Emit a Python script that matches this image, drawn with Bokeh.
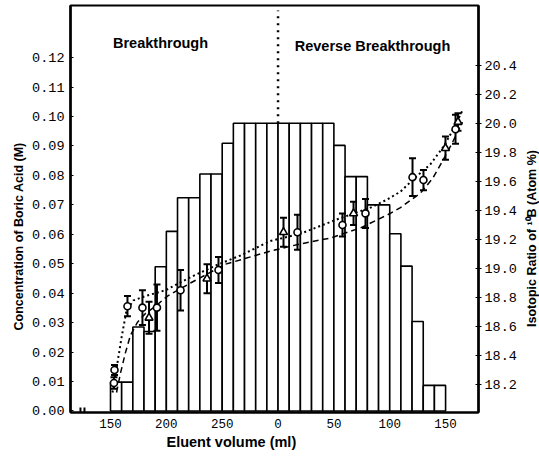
from math import pi
from bokeh.plotting import figure
from bokeh.layouts import row
from bokeh.models import Range1d, LinearAxis, FixedTicker, NumeralTickFormatter, Label, Title
from bokeh.embed import file_html
from bokeh.resources import INLINE

# Elution position (ml). Breakthrough volume runs 150..300,
# reverse-breakthrough volume = position - 300.
REVERSE_OFFSET = 300

# 10 ml fractions: start position and boric acid concentration (M)
fraction_start = [150, 160, 170, 180, 190, 200, 210, 220, 230, 240,
                  250, 260, 270, 280, 290, 300, 310, 320, 330, 340,
                  350, 360, 370, 380, 390, 400, 410, 420, 430, 440]
fraction_conc = [0.0098, 0.0098, 0.0285, 0.0270, 0.0490, 0.0610, 0.0724, 0.0724, 0.0805, 0.0805,
                 0.0909, 0.0977, 0.0977, 0.0977, 0.0977, 0.0977, 0.0977, 0.0977, 0.0977, 0.0977,
                 0.0902, 0.0796, 0.0796, 0.0700, 0.0700, 0.0602, 0.0492, 0.0304, 0.0087, 0.0087]
fraction_width = 10

# Isotopic ratio of 10B (atom %), run 1 (circles)
circ_pos = [153.6, 153.1, 165.2, 178.6, 191.6, 212.7, 246.7, 317.4, 357.7, 378.3, 420.4, 430.2, 458.9]
circ_ratio = [18.30, 18.21, 18.74, 18.73, 18.73, 18.85, 18.99, 19.25, 19.30, 19.38, 19.63, 19.61, 19.96]
circ_err = [0.035, 0.04, 0.07, 0.12, 0.16, 0.14, 0.09, 0.12, 0.08, 0.10, 0.13, 0.07, 0.10]

# run 2 (triangles)
tri_pos = [184.5, 236.4, 304.9, 367.6, 449.9, 461.1]
tri_ratio = [18.66, 18.93, 19.25, 19.38, 19.83, 20.01]
tri_err = [0.11, 0.10, 0.10, 0.08, 0.08, 0.06]

# fitted curves
curveA_pos = [151.8, 155.4, 159.8, 164.3, 170.6, 181.3, 199.2, 221.6, 244.0, 266.4, 293.2,
              320.1, 353.2, 382.8, 396.2, 409.6, 420.4, 436.5, 448.1, 456.2, 465.1]
curveA_ratio = [18.145, 18.31, 18.52, 18.71, 18.78, 18.81, 18.85, 18.94, 19.02, 19.09, 19.19,
                19.24, 19.34, 19.42, 19.47, 19.53, 19.61, 19.72, 19.84, 19.95, 20.09]
curveB_pos = [155.4, 159.0, 163.4, 167.9, 174.2, 181.3, 190.3, 201.0, 221.6, 253.0, 293.2,
              320.1, 346.9, 373.8, 398.0, 409.6, 427.5, 438.3, 447.2, 456.2, 465.1]
curveB_ratio = [18.145, 18.28, 18.42, 18.54, 18.63, 18.69, 18.74, 18.81, 18.90, 19.03, 19.12,
                19.17, 19.21, 19.28, 19.37, 19.42, 19.52, 19.62, 19.74, 19.87, 20.01]

x_tick_pos = [150, 200, 250, 300, 350, 400, 450]
x_tick_labels = ["150", "200", "250", "0", "50", "100", "150"]
conc_ticks = [0.00, 0.01, 0.02, 0.03, 0.04, 0.05, 0.06, 0.07, 0.08, 0.09, 0.10, 0.11, 0.12]
ratio_ticks = [18.2, 18.4, 18.6, 18.8, 19.0, 19.2, 19.4, 19.6, 19.8, 20.0, 20.2, 20.4]

SANS = "Liberation Sans"
MONO = "Liberation Mono"
RATIO_RANGE = (18.0069, 20.814)

p = figure(width=524, height=457, frame_width=408, frame_height=407,
           output_backend="svg", toolbar_location=None,
           x_range=Range1d(114.19, 479.47), y_range=Range1d(-0.00051, 0.1377),
           min_border_left=70, min_border_right=46, min_border_top=5, min_border_bottom=45)
p.extra_y_ranges = {"ratio": Range1d(*RATIO_RANGE)}
p.xgrid.visible = False
p.ygrid.visible = False
p.outline_line_color = "black"
p.outline_line_width = 2
p.background_fill_color = "white"
p.border_fill_color = "white"

xa = p.xaxis[0]
xa.ticker = FixedTicker(ticks=x_tick_pos)
xa.major_label_overrides = {float(k): v for k, v in zip(x_tick_pos, x_tick_labels)}
xa.major_tick_in = 0
xa.major_tick_out = 0
xa.minor_tick_line_color = None
xa.axis_line_width = 2
xa.major_label_standoff = 6
xa.major_label_text_font = MONO
xa.major_label_text_font_size = "12.5px"
xa.major_label_text_color = "black"

ya = p.yaxis[0]
ya.ticker = FixedTicker(ticks=conc_ticks)
ya.formatter = NumeralTickFormatter(format="0.00")
ya.major_tick_in = 3
ya.major_tick_out = 0
ya.minor_tick_line_color = None
ya.axis_line_width = 2.5
ya.major_label_standoff = 6
ya.major_label_text_font = MONO
ya.major_label_text_font_size = "13.5px"
ya.major_label_text_color = "black"

p.add_layout(Title(text="Concentration of Boric Acid (M)", align="left", offset=82, standoff=8,
                   text_font=SANS, text_font_style="bold", text_font_size="12.5px",
                   text_color="black"), "left")

ra = LinearAxis(y_range_name="ratio", ticker=FixedTicker(ticks=ratio_ticks),
                formatter=NumeralTickFormatter(format="0.0"))
ra.major_tick_in = 3
ra.major_tick_out = 3
ra.minor_tick_line_color = None
ra.axis_line_width = 2.5
ra.major_label_standoff = 3
ra.major_label_text_font = MONO
ra.major_label_text_font_size = "13.5px"
ra.major_label_text_color = "black"
p.add_layout(ra, "right")

p.add_layout(Title(text="Eluent volume (ml)", align="left", offset=96, standoff=2,
                   text_font=SANS, text_font_style="bold", text_font_size="14.5px",
                   text_color="black"), "below")

# concentration histogram
p.quad(left=fraction_start, right=[s + fraction_width for s in fraction_start],
       bottom=0, top=fraction_conc, fill_color="white", line_color="black", line_width=1.6)

# divider between breakthrough and reverse breakthrough
p.segment(x0=[REVERSE_OFFSET], x1=[REVERSE_OFFSET], y0=[max(fraction_conc)], y1=[0.136],
          line_color="black", line_width=2.5, line_dash="2 5")

# axis break mark
p.segment(x0=[123.1, 126.7], x1=[123.1, 126.7], y0=[-0.0005, -0.0005], y1=[0.0012, 0.0012],
          line_color="black", line_width=2)

# curves
p.line(curveA_pos, curveA_ratio, y_range_name="ratio", line_color="black", line_width=2,
       line_dash="2 3")
p.line(curveB_pos, curveB_ratio, y_range_name="ratio", line_color="black", line_width=1.5,
       line_dash="6 4")

# error bars + markers
for xs, ys, es in ((circ_pos, circ_ratio, circ_err), (tri_pos, tri_ratio, tri_err)):
    lo = [y - e for y, e in zip(ys, es)]
    hi = [y + e for y, e in zip(ys, es)]
    p.segment(x0=xs, x1=xs, y0=lo, y1=hi, y_range_name="ratio", line_color="black", line_width=2)
    p.scatter(xs, hi, marker="dash", size=7, line_width=2, line_color="black", y_range_name="ratio")
    p.scatter(xs, lo, marker="dash", size=7, line_width=2, line_color="black", y_range_name="ratio")

p.scatter(circ_pos, circ_ratio, marker="circle", size=7, fill_color="white", line_color="black",
          line_width=1.6, y_range_name="ratio")
p.scatter(tri_pos, tri_ratio, marker="triangle", size=8, fill_color="white", line_color="black",
          line_width=1.6, y_range_name="ratio")

def lab(x, y, text):
    p.add_layout(Label(x=x, y=y, text=text, text_align="center", text_baseline="middle",
                       text_font=SANS, text_font_style="bold", text_font_size="14.5px",
                       text_color="black"))

lab(194.8, 0.1251, "Breakthrough")
lab(384.6, 0.1241, "Reverse Breakthrough")

# narrow strip holding the right-hand axis title (reads bottom to top)
p2 = figure(width=15, height=457, frame_width=15, frame_height=407,
            output_backend="svg", toolbar_location=None,
            x_range=Range1d(0, 1), y_range=Range1d(*RATIO_RANGE),
            x_axis_type=None, y_axis_type=None,
            min_border_left=0, min_border_right=0, min_border_top=5, min_border_bottom=45)
p2.xgrid.visible = False
p2.ygrid.visible = False
p2.outline_line_color = None
p2.background_fill_color = "white"
p2.border_fill_color = "white"
p2.add_layout(Label(x=0.5, y=19.207, text="Isotopic Ratio of \u00b9\u2070B (Atom %)", angle=pi / 2,
                    text_align="center", text_baseline="middle", text_font=SANS,
                    text_font_style="bold", text_font_size="12.5px", text_color="black"))

layout = row(p, p2, spacing=0)
open("out.html", "w").write(file_html(layout, INLINE))
